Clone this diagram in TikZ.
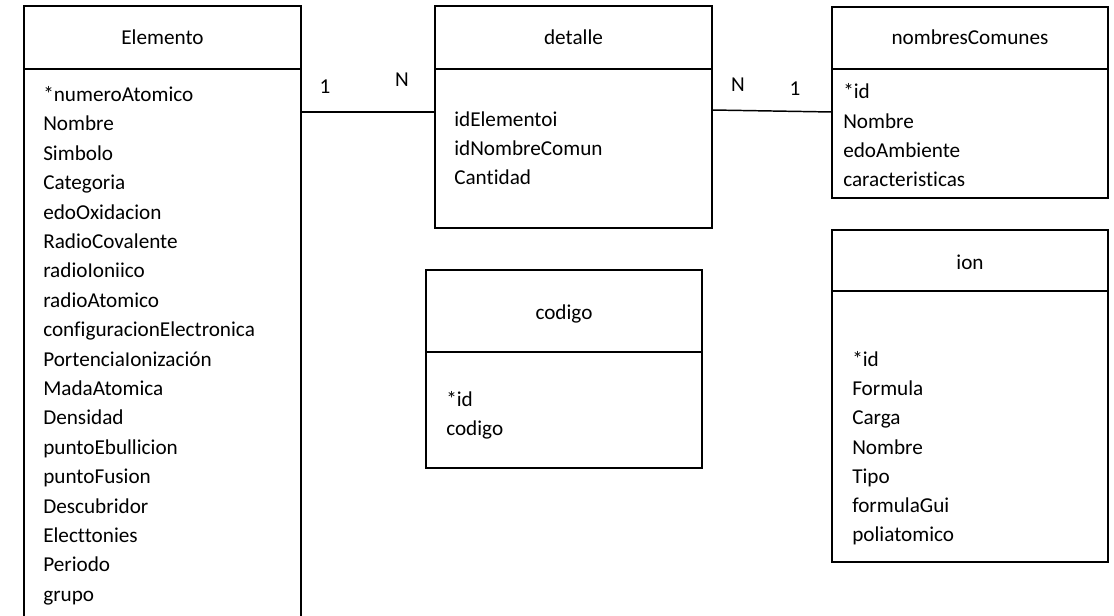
\documentclass[tikz,border=0pt]{standalone}
\usepackage{fontspec}
\setmainfont[Ligatures=NoCommon]{Carlito}
\begin{document}
\begin{tikzpicture}[x=0.75pt,y=-0.75pt,
  entity/.style={draw, line width=1.1pt, rectangle, anchor=north west, inner sep=0pt, outer sep=0pt},
  sepline/.style={line width=1.1pt},
  conn/.style={line width=1.1pt},
  txt/.style={inner sep=0pt, font=\fontsize{15.9}{18}\selectfont},
  attr/.style={txt, anchor=base west},
  ttl/.style={txt, anchor=base},
  card/.style={txt, anchor=base}]
\useasboundingbox (0,0) rectangle (1114,616);
\fill[white] (0,0) rectangle (1114,616);

% entity boxes
\node[entity, minimum width=207.75pt, minimum height=465pt] (Elemento) at (24,6) {};
\node[entity, minimum width=207.75pt, minimum height=166.5pt] (detalle) at (435,6) {};
\node[entity, minimum width=207pt, minimum height=143.25pt] (nombres) at (832,7) {};
\node[entity, minimum width=207pt, minimum height=148.5pt] (codigo) at (426,270) {};
\node[entity, minimum width=207pt, minimum height=249pt] (ion) at (832,230) {};

% header separators
\coordinate (hA) at (0,69);
\coordinate (hC) at (0,352);
\coordinate (hI) at (0,291);
\draw[sepline] (Elemento.west |- hA) -- (Elemento.east |- hA);
\draw[sepline] (detalle.west |- hA) -- (detalle.east |- hA);
\draw[sepline] (nombres.west |- hA) -- (nombres.east |- hA);
\draw[sepline] (codigo.west |- hC) -- (codigo.east |- hC);
\draw[sepline] (ion.west |- hI) -- (ion.east |- hI);

% titles
\node[ttl] (tElemento) at (162.5,44.5) {Elemento};
\node[ttl] (tdetalle) at (573.5,44.5) {detalle};
\node[ttl] (tnombres) at (970,44.5) {nombresComunes};
\node[ttl] (tcodigo) at (564,319.5) {codigo};
\node[ttl] (tion) at (970,269.5) {ion};

% attributes
\foreach \t [count=\i] in {*numeroAtomico,Nombre,Simbolo,Categoria,edoOxidacion,RadioCovalente,radioIoniico,radioAtomico,configuracionElectronica,PortenciaIonización,MadaAtomica,Densidad,puntoEbullicion,puntoFusion,Descubridor,Electtonies,Periodo,grupo}
  \node[attr] (el\i) at ({43},{101.5+(\i-1)*29.4}) {\t};
\foreach \t [count=\i] in {idElementoi,idNombreComun,Cantidad}
  \node[attr] (de\i) at ({454},{126.5+(\i-1)*29.2}) {\t};
\foreach \t [count=\i] in {*id,Nombre,edoAmbiente,caracteristicas}
  \node[attr] (nc\i) at ({843},{99+(\i-1)*29.2}) {\t};
\foreach \t [count=\i] in {*id,codigo}
  \node[attr] (co\i) at ({446},{406.5+(\i-1)*29.4}) {\t};
\foreach \t [count=\i] in {*id,Formula,Carga,Nombre,Tipo,formulaGui,poliatomico}
  \node[attr] (io\i) at ({852},{366.5+(\i-1)*29.2}) {\t};

% connectors
\coordinate (r1) at (0,112);
\coordinate (r2a) at (0,110);
\coordinate (r2b) at (0,112);
\draw[conn] (Elemento.east |- r1) -- (detalle.west |- r1);
\draw[conn] (detalle.east |- r2a) -- (nombres.west |- r2b);

% cardinalities
\node[card] (c1) at (325,93.5) {1};
\node[card] (c2) at (402,86.5) {N};
\node[card] (c3) at (738,91.5) {N};
\node[card] (c4) at (795,95.5) {1};
\end{tikzpicture}
\end{document}
